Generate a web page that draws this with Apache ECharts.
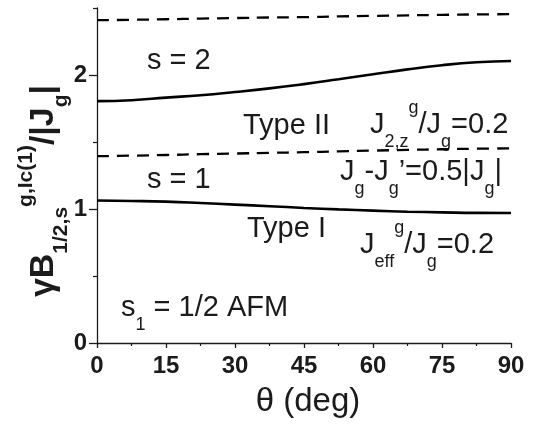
<!DOCTYPE html>
<html>
<head>
<meta charset="utf-8">
<script src="https://cdn.jsdelivr.net/npm/echarts@6/dist/echarts.min.js"></script>
<style>
  html, body { margin: 0; padding: 0; background: #fff; }
  #chart { width: 537px; height: 424px; }
</style>
</head>
<body>
<div id="chart"></div>
<script>
// Angle between the field and the anisotropy axis, degrees
const theta = [0, 7.5, 15, 22.5, 30, 37.5, 45, 52.5, 60, 67.5, 75, 82.5, 90];

// Upper boundary of the s = 2 region (dashed)
const boundaryUpper = [2.409, 2.412, 2.416, 2.421, 2.425, 2.429, 2.432, 2.437, 2.441, 2.445, 2.449, 2.452, 2.454];
// s = 2 critical field (solid)
const fieldS2 = [1.805, 1.812, 1.831, 1.849, 1.873, 1.900, 1.932, 1.968, 2.005, 2.042, 2.073, 2.095, 2.105];
// Boundary between s = 1 and s = 2 regions (dashed)
const boundaryLower = [1.394, 1.398, 1.403, 1.409, 1.414, 1.419, 1.424, 1.430, 1.436, 1.441, 1.446, 1.450, 1.452];
// s = 1 critical field (solid)
const fieldS1 = [1.063, 1.060, 1.055, 1.045, 1.033, 1.021, 1.008, 0.997, 0.988, 0.980, 0.975, 0.971, 0.970];

const xTicks = [0, 15, 30, 45, 60, 75, 90];
const yMajorTicks = [0, 1, 2];
const yMinorTicks = [0.5, 1.5, 2.5];

const FONT = "'Liberation Sans', Arial, Helvetica, sans-serif";
const INK = '#1b1b1b';

function pairs(xs, ys) { return xs.map((x, i) => [x, ys[i]]); }

const chart = echarts.init(document.getElementById('chart'), null, { renderer: 'canvas' });

// rich-text styles for sub/superscripted labels
const annRich = {
  m:   { fontSize: 29, fontFamily: FONT, color: INK, lineHeight: 52 },
  sub: { fontSize: 18, fontFamily: FONT, color: INK, lineHeight: 24, verticalAlign: 'bottom' },
  sup: { fontSize: 18, fontFamily: FONT, color: INK, lineHeight: 24, verticalAlign: 'top' }
};

function note(x, y, text) {
  return {
    type: 'text', x: x, y: y, silent: true,
    style: { text: text, rich: annRich, align: 'left', verticalAlign: 'middle', fill: INK, font: '29px ' + FONT }
  };
}

const yTitleRich = {
  b:   { fontSize: 34, fontWeight: 'bold', fontFamily: FONT, color: INK, lineHeight: 56 },
  sub: { fontSize: 21, fontWeight: 'bold', fontFamily: FONT, color: INK, lineHeight: 24, verticalAlign: 'bottom' },
  sup: { fontSize: 21, fontWeight: 'bold', fontFamily: FONT, color: INK, lineHeight: 24, verticalAlign: 'top' }
};

function lineSeries(name, data, dashed) {
  return {
    name: name, type: 'line', data: data, xAxisIndex: 0, yAxisIndex: 0,
    smooth: true, showSymbol: false, symbol: 'none', silent: true,
    lineStyle: { color: '#000', width: dashed ? 2.3 : 2.6, type: dashed ? [12, 8] : 'solid' }
  };
}

chart.setOption({
  animation: false,
  backgroundColor: '#fff',
  grid: { left: 97, right: 26, top: 8, bottom: 81, containLabel: false, outerBoundsMode: 'none' },
  xAxis: {
    type: 'value', min: 0, max: 90, interval: 15,
    axisLine: { show: true, lineStyle: { color: INK, width: 1.3 } },
    axisTick: { show: true, inside: false, length: 5, lineStyle: { color: INK, width: 1.3 } },
    minorTick: { show: true, splitNumber: 2, length: 3, lineStyle: { color: INK, width: 1.2 } },
    axisLabel: { fontSize: 24, fontWeight: 'bold', fontFamily: FONT, color: INK, margin: 11,
                 customValues: xTicks },
    splitLine: { show: false }
  },
  yAxis: [
    {
      type: 'value', min: 0, max: 2.5, position: 'left',
      axisLine: { show: true, onZero: false, lineStyle: { color: INK, width: 1.3 } },
      axisTick: { show: true, inside: false, length: 4, customValues: yMinorTicks,
                  lineStyle: { color: INK, width: 1.2 } },
      axisLabel: { show: false },
      splitLine: { show: false }
    },
    {
      type: 'value', min: 0, max: 2.5, position: 'left',
      axisLine: { show: false },
      axisTick: { show: true, inside: false, length: 8, customValues: yMajorTicks,
                  lineStyle: { color: INK, width: 1.3 } },
      axisLabel: { fontSize: 24, fontWeight: 'bold', fontFamily: FONT, color: INK, margin: 10,
                   customValues: yMajorTicks },
      splitLine: { show: false }
    }
  ],
  series: [
    lineSeries('s = 2 upper boundary', pairs(theta, boundaryUpper), true),
    lineSeries('s = 2', pairs(theta, fieldS2), false),
    lineSeries('s = 1 / s = 2 boundary', pairs(theta, boundaryLower), true),
    lineSeries('s = 1', pairs(theta, fieldS1), false)
  ],
  graphic: [
    // x-axis title
    {
      type: 'text', x: 308, y: 402, silent: true,
      style: { text: '\u03b8 (deg)', font: '33px ' + FONT, fill: INK, align: 'center', verticalAlign: 'middle' }
    },
    // y-axis title, reading bottom to top
    {
      type: 'text', x: 44, y: 191, rotation: Math.PI / 2, silent: true,
      style: {
        text: '{b|\u03b3B}{sub|1/2,s}{sup|g,Ic(1)}{b|/|J}{sub|g}{b||}',
        rich: yTitleRich, align: 'center', verticalAlign: 'middle', fill: INK,
        font: 'bold 34px ' + FONT
      }
    },
    note(147, 61, '{m|s = 2}'),
    note(147, 180, '{m|s = 1}'),
    note(243, 126, '{m|Type II}'),
    note(247, 229, '{m|Type I}'),
    note(370, 125, '{m|J}{sub|2,z}{sup|g}{m|/J}{sub|g}{m|=0.2}'),
    note(340, 172, '{m|J}{sub|g}{m|-J}{sub|g}{m|\u2019=0.5|J}{sub|g}{m||}'),
    note(360, 245, '{m|J}{sub|eff}{sup|g}{m|/J}{sub|g}{m|=0.2}'),
    note(121, 308, '{m|s}{sub|1}{m| = 1/2 AFM}')
  ]
});
</script>
</body>
</html>
